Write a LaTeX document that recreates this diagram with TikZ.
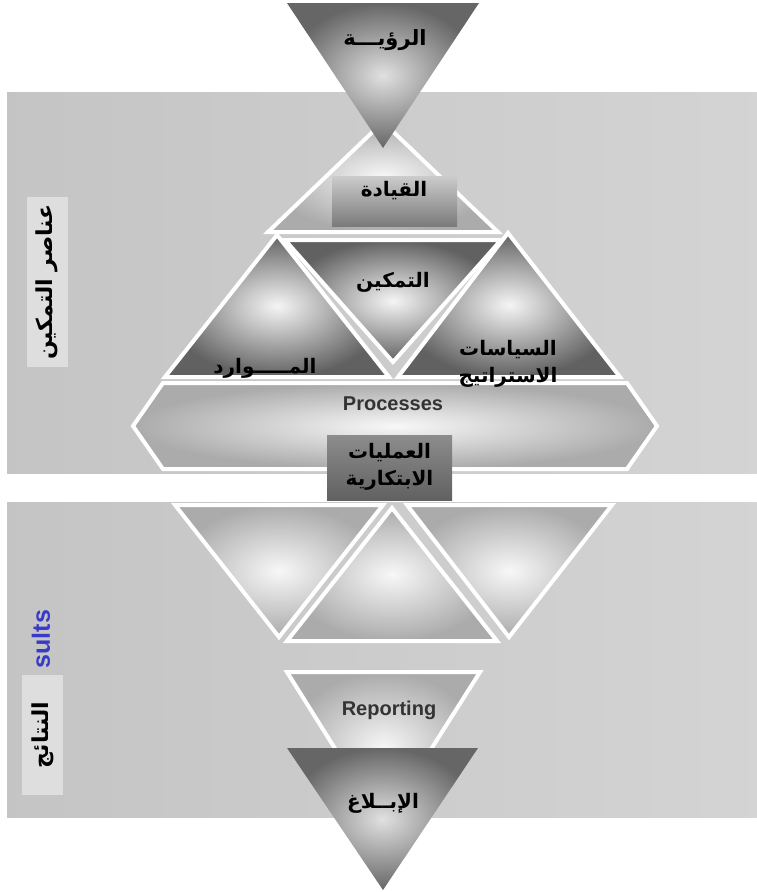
\documentclass[tikz,border=0pt]{standalone}
\usepackage{fontspec}
\setmainfont{Liberation Sans}
\newfontfamily\arabicfont[Script=Arabic]{DejaVu Sans}
\TeXXeTstate=1
\usepackage{xcolor}

\begin{document}
\begin{tikzpicture}[x=1pt,y=-1pt,
    % 样式
    panel/.style={left color=black!23, middle color=black!11, right color=black!17},
    darktri/.style={inner color=black!12, outer color=black!60},
    midtri/.style={draw=white, line width=4pt, line join=miter, inner color=black!4, outer color=black!62},
    lighttri/.style={draw=white, line width=4pt, line join=miter, inner color=black!3, outer color=black!33},
    arlabel/.style={font=\arabicfont\bfseries\fontsize{20}{27}\selectfont, text=black, align=center, inner sep=1pt},
    enlabel/.style={font=\bfseries\fontsize{20}{24}\selectfont, text=black!80, inner sep=1pt},
    sidebox/.style={fill=black!13, rotate=90, minimum height=41pt, inner sep=0pt,
      font=\arabicfont\bfseries\fontsize{22}{24}\selectfont},
    ]
    \useasboundingbox (0,0) rectangle (757,892);

    % Panels
    \fill[panel] (7,92) rectangle (757,473);
    \fill[panel] (7,502) rectangle (757,817);

    % Top
    \path[lighttri] (383,122) -- (498,232) -- (268,232) -- cycle;
    \path[darktri] (287,3) -- (479,3) -- (383,148) -- cycle;

    % Middle row
    \path[midtri] (277,235) -- (389,377) -- (165,377) -- cycle;
    \path[midtri] (508,233) -- (620,377) -- (398,377) -- cycle;
    \path[midtri] (285,240) -- (501,240) -- (393,362) -- cycle;

    % Processes
    \path[lighttri] (163,383) -- (627,383) -- (657,426) -- (627,469) -- (163,469) -- (133,426) -- cycle;

    % Bottom row
    \path[lighttri] (175,505) -- (383,505) -- (279,637) -- cycle;
    \path[lighttri] (407,505) -- (612,505) -- (509,637) -- cycle;
    \path[lighttri] (392,508) -- (497,641) -- (287,641) -- cycle;

    % Reporting
    \path[lighttri] (287,672) -- (480,672) -- (383,825) -- cycle;
    \path[darktri] (287,748) -- (478,748) -- (383,890) -- cycle;

    %Nodes
    \node[arlabel, font=\arabicfont\bfseries\fontsize{21}{24}\selectfont] (vision) at (385,40) {\beginR الرؤيـــة\endR};
    \node[top color=black!20, bottom color=black!52, minimum width=125pt, minimum height=50pt] (leadbox) at (394.5,201) {};
    \node[arlabel] (leadership) at (394,191) {\beginR القيادة\endR};
    \node[arlabel] (empower) at (393,282) {\beginR التمكين\endR};
    \node[arlabel] (resources) at (265,368) {\beginR المـــــوارد\endR};
    \node[arlabel] (policies) at (508,364) {\beginR السياسات\endR\\\beginR الاستراتيج\endR};
    \node[enlabel] (processes) at (393,404) {Processes};
    \node[top color=black!45, middle color=black!15, bottom color=black!62, minimum width=125pt, minimum height=65pt] (innobox) at (389.5,467.5) {};
    \node[arlabel] (innovation) at (389.5,467) {\beginR العمليات\endR\\\beginR الابتكارية\endR};
    \node[enlabel] (reporting) at (389,710) {Reporting};
    \node[arlabel] (communication) at (383,803) {\beginR الإبــلاغ\endR};

    % Side labels
    \node[sidebox, minimum width=170pt] (enablers) at (47,282) {\beginR عناصر التمكين\endR};
    \node[rotate=90, font=\bfseries\fontsize{25}{28}\selectfont, text={rgb,255:red,58;green,58;blue,200}, inner sep=0pt] (results) at (41,639) {sults};
    \node[sidebox, minimum width=120pt] (resultsbox) at (42.5,735) {\beginR النتائج\endR};

\end{tikzpicture}
\end{document}
